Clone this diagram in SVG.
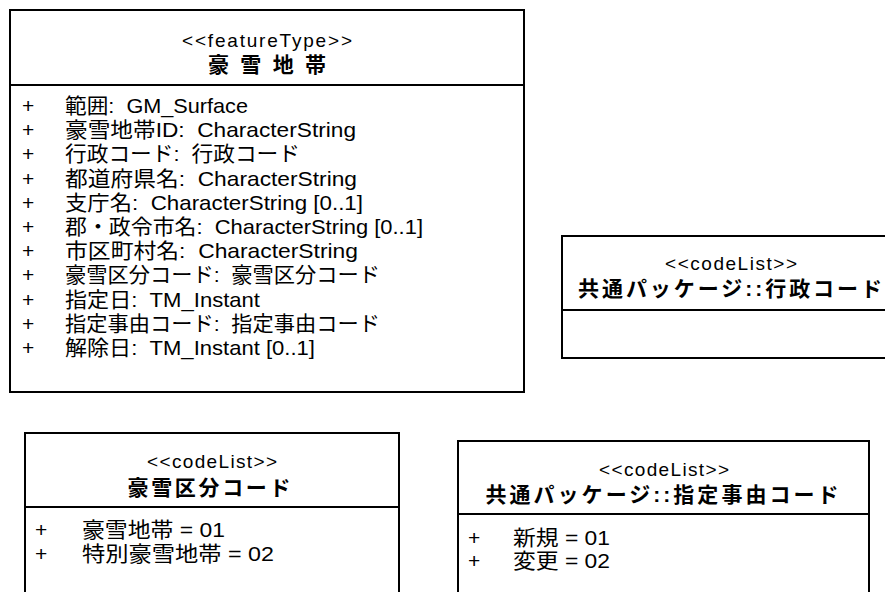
<svg xmlns="http://www.w3.org/2000/svg" width="885" height="592" viewBox="0 0 885 592">
<style>
.box{fill:#fff;stroke:#000;stroke-width:2}
.div{stroke:#000;stroke-width:2}
.st{font-family:"Liberation Sans","Noto Sans CJK JP",sans-serif;font-size:19px;fill:#000;text-anchor:middle}
.ti{font-family:"Liberation Sans","Noto Sans CJK JP",sans-serif;font-size:21px;font-weight:bold;fill:#000;text-anchor:middle}
.at text{font-family:"Liberation Sans","Noto Sans CJK JP",sans-serif;font-size:21px;fill:#000;white-space:pre}
</style>
<rect width="885" height="592" fill="#fff"/>
<g id="connectors"/>
<g id="gousetsu-chitai">
<rect class="box" x="10" y="10" width="514" height="382"/>
<line class="div" x1="10" y1="85" x2="524" y2="85"/>
<text class="st" x="267" y="46.5" textLength="170">&lt;&lt;featureType&gt;&gt;</text>
<text class="ti" x="267" y="72" textLength="118">豪雪地帯</text>
<g class="at">
<text x="22" y="113">+</text><text x="65" y="113" textLength="183" lengthAdjust="spacingAndGlyphs">範囲:  GM_Surface</text>
<text x="22" y="137.2">+</text><text x="65" y="137.2" textLength="291" lengthAdjust="spacingAndGlyphs">豪雪地帯ID:  CharacterString</text>
<text x="22" y="161.4">+</text><text x="65" y="161.4" textLength="235" lengthAdjust="spacingAndGlyphs">行政コード:  行政コード</text>
<text x="22" y="185.6">+</text><text x="65" y="185.6" textLength="292" lengthAdjust="spacingAndGlyphs">都道府県名:  CharacterString</text>
<text x="22" y="209.8">+</text><text x="65" y="209.8" textLength="298" lengthAdjust="spacingAndGlyphs">支庁名:  CharacterString [0..1]</text>
<text x="22" y="234">+</text><text x="65" y="234" textLength="358" lengthAdjust="spacingAndGlyphs">郡・政令市名:  CharacterString [0..1]</text>
<text x="22" y="258.2">+</text><text x="65" y="258.2" textLength="293" lengthAdjust="spacingAndGlyphs">市区町村名:  CharacterString</text>
<text x="22" y="282.4">+</text><text x="65" y="282.4" textLength="315" lengthAdjust="spacingAndGlyphs">豪雪区分コード:  豪雪区分コード</text>
<text x="22" y="306.6">+</text><text x="65" y="306.6" textLength="195" lengthAdjust="spacingAndGlyphs">指定日:  TM_Instant</text>
<text x="22" y="330.8">+</text><text x="65" y="330.8" textLength="315" lengthAdjust="spacingAndGlyphs">指定事由コード:  指定事由コード</text>
<text x="22" y="355">+</text><text x="65" y="355" textLength="250" lengthAdjust="spacingAndGlyphs">解除日:  TM_Instant [0..1]</text>
</g>
</g>
<g id="gyosei-code">
<rect class="box" x="562" y="236" width="340" height="122"/>
<line class="div" x1="562" y1="310" x2="902" y2="310"/>
<text class="st" x="731" y="270" textLength="132">&lt;&lt;codeList&gt;&gt;</text>
<text class="ti" x="730" y="296" textLength="304">共通パッケージ::行政コード</text>
</g>
<g id="gousetsu-kubun-code">
<rect class="box" x="25" y="433" width="374" height="170"/>
<line class="div" x1="25" y1="507" x2="399" y2="507"/>
<text class="st" x="212" y="468" textLength="130">&lt;&lt;codeList&gt;&gt;</text>
<text class="ti" x="209" y="495" textLength="163">豪雪区分コード</text>
<g class="at">
<text x="35" y="537">+</text><text x="82" y="537" textLength="143" lengthAdjust="spacingAndGlyphs">豪雪地帯 = 01</text>
<text x="35" y="560.5">+</text><text x="82" y="560.5" textLength="192" lengthAdjust="spacingAndGlyphs">特別豪雪地帯 = 02</text>
</g>
</g>
<g id="shitei-jiyu-code">
<rect class="box" x="458" y="441" width="411" height="160"/>
<line class="div" x1="458" y1="514" x2="869" y2="514"/>
<text class="st" x="664" y="476" textLength="130">&lt;&lt;codeList&gt;&gt;</text>
<text class="ti" x="662" y="502" textLength="353">共通パッケージ::指定事由コード</text>
<g class="at">
<text x="468" y="545">+</text><text x="513" y="545" textLength="97" lengthAdjust="spacingAndGlyphs">新規 = 01</text>
<text x="468" y="568">+</text><text x="513" y="568" textLength="97" lengthAdjust="spacingAndGlyphs">変更 = 02</text>
</g>
</g>
</svg>
